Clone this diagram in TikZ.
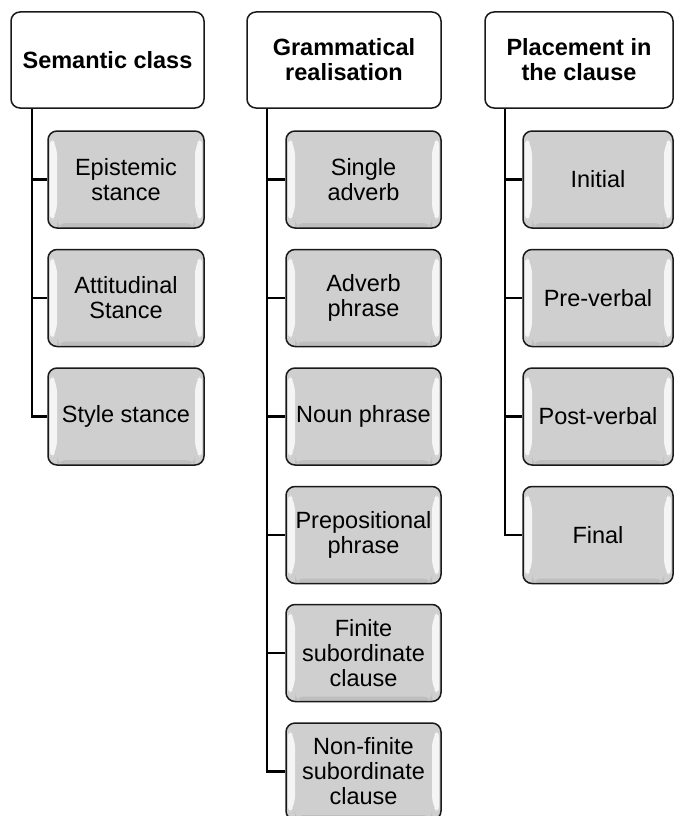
\documentclass[tikz,border=0pt]{standalone}
\usepackage{fontspec}
\setmainfont{Liberation Sans}
\begin{document}
\begin{tikzpicture}[x=1pt,y=-1pt,
  every node/.style={font=\fontsize{23.5}{25}\selectfont, align=center, inner sep=0pt},
  head/.style={draw=black!90, line width=1.5pt, rounded corners=9pt, fill=white,
    font=\fontsize{23.5}{25}\selectfont\bfseries, minimum height=96pt},
  leaf/.style={draw=black!90, line width=1.5pt, rounded corners=9pt, fill=black!19,
    minimum height=97pt,
    path picture={
      % bevel highlights along the inner left and right edges
      \fill[white, opacity=0.8]
        ([shift={(2pt,-5pt)}]path picture bounding box.north west) --
        ([shift={(9pt,-15pt)}]path picture bounding box.north west) --
        ([shift={(9pt,15pt)}]path picture bounding box.south west) --
        ([shift={(2pt,5pt)}]path picture bounding box.south west) -- cycle;
      \fill[white, opacity=0.8]
        ([shift={(-2pt,-5pt)}]path picture bounding box.north east) --
        ([shift={(-9pt,-15pt)}]path picture bounding box.north east) --
        ([shift={(-9pt,15pt)}]path picture bounding box.south east) --
        ([shift={(-2pt,5pt)}]path picture bounding box.south east) -- cycle;
      % soft darker band along the bottom edge
      \fill[black, opacity=0.08]
        ([shift={(9pt,5pt)}]path picture bounding box.south west) rectangle
        ([shift={(-9pt,0pt)}]path picture bounding box.south east);
    }},
  conn/.style={line width=2.4pt, black}
]
\useasboundingbox (0,0) rectangle (674,816);

% column headers
\node[head, minimum width=193pt] (h1) at (107.5,60) {Semantic class};
\node[head, minimum width=194pt] (h2) at (344,60) {Grammatical\\realisation};
\node[head, minimum width=188pt] (h3) at (579,60) {Placement in\\the clause};

% semantic class
\node[leaf, minimum width=156pt] (a1) at (126,179.5) {Epistemic\\stance};
\node[leaf, minimum width=156pt] (a2) at (126,298) {Attitudinal\\Stance};
\node[leaf, minimum width=156pt] (a3) at (126,416.5) {Style stance};

% grammatical realisation
\node[leaf, minimum width=155pt] (b1) at (363.5,179.5) {Single\\adverb};
\node[leaf, minimum width=155pt] (b2) at (363.5,298) {Adverb\\phrase};
\node[leaf, minimum width=155pt] (b3) at (363.5,416.5) {Noun phrase};
\node[leaf, minimum width=155pt] (b4) at (363.5,535) {Prepositional\\phrase};
\node[leaf, minimum width=155pt] (b5) at (363.5,653) {Finite\\subordinate\\clause};
\node[leaf, minimum width=155pt] (b6) at (363.5,771.5) {Non-finite\\subordinate\\clause};

% placement in the clause
\node[leaf, minimum width=150pt] (c1) at (598,179.5) {Initial};
\node[leaf, minimum width=150pt] (c2) at (598,298) {Pre-verbal};
\node[leaf, minimum width=150pt] (c3) at (598,416.5) {Post-verbal};
\node[leaf, minimum width=150pt] (c4) at (598,535) {Final};

% tree connectors
\foreach \n in {a1,a2,a3}
  \draw[conn] ([xshift=22pt]h1.south west) |- (\n.west);
\foreach \n in {b1,b2,b3,b4,b5,b6}
  \draw[conn] ([xshift=21pt]h2.south west) |- (\n.west);
\foreach \n in {c1,c2,c3,c4}
  \draw[conn] ([xshift=21pt]h3.south west) |- (\n.west);
\end{tikzpicture}
\end{document}
